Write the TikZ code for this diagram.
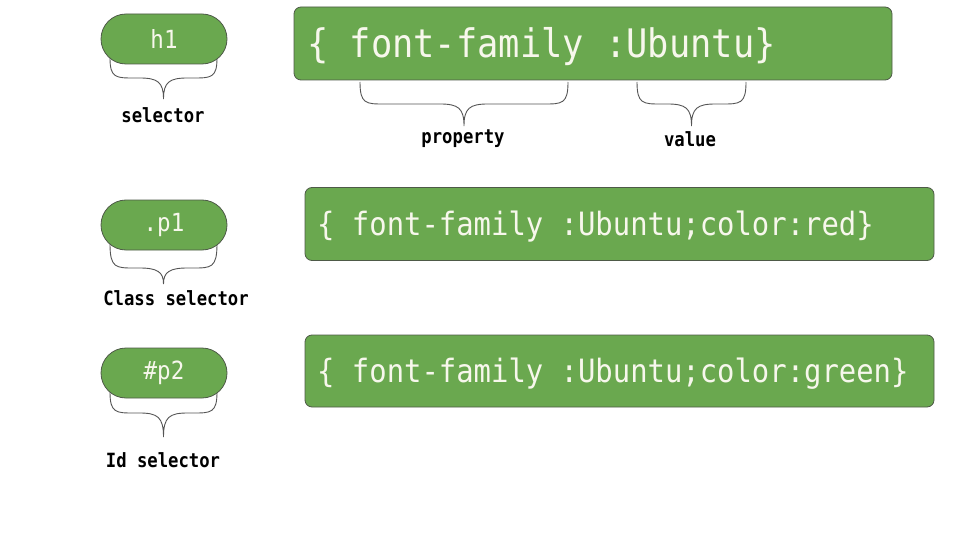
\documentclass[tikz,border=0pt]{standalone}
\usepackage{fontspec}
\newfontfamily\codefont[FakeStretch=0.9]{DejaVu Sans Mono}
\newfontfamily\labelfont[FakeStretch=0.88]{DejaVu Sans Mono Bold}
\definecolor{boxgreen}{HTML}{6AA84F}
\definecolor{boxedge}{HTML}{4E5A48}
\definecolor{boxtext}{HTML}{F7F7EC}
\definecolor{bracecol}{HTML}{555555}
\newcommand{\bracedown}[5]{%
  \pgfmathsetmacro{\bxc}{(#1+#2)/2}%
  \draw[bracestyle] (#1,#3) .. controls (#1,#4) and (#1+6,#4) .. (#1+24,#4) -- (\bxc-24,#4)
    .. controls (\bxc-6,#4) and (\bxc,#4+4) .. (\bxc,#5) .. controls (\bxc,#4+4) and (\bxc+6,#4) .. (\bxc+24,#4)
    -- (#2-24,#4) .. controls (#2-6,#4) and (#2,#4) .. (#2,#3);}
\begin{document}
\begin{tikzpicture}[x=1pt,y=-1pt,
  bracestyle/.style={draw=bracecol,line width=0.9pt},
  pill/.style={draw=boxedge,fill=boxgreen,line width=0.8pt,rounded corners=25pt,
    minimum width=126pt,minimum height=50pt,inner sep=0pt,text=boxtext,font=\codefont\fontsize{25}{25}\selectfont},
  codebox/.style={draw=boxedge,fill=boxgreen,line width=0.8pt,rounded corners=7pt,
    minimum height=73pt,inner sep=0pt},
  codetext/.style={anchor=base west,inner sep=0pt,text=boxtext},
  lbl/.style={text=black,inner sep=0pt,font=\labelfont\fontsize{19.6}{19.6}\selectfont}]
\useasboundingbox[fill=white] (0,0) rectangle (960,540);
% braces
\bracedown{110}{217}{58}{78}{99}
\bracedown{110}{217}{244}{268}{284}
\bracedown{110}{217}{392}{413}{437}
\bracedown{360}{568}{82}{104}{126}
\bracedown{637}{746}{82}{104}{126}
% pills
\node[pill] (h1) at (164,39) {h1};
\node[pill] (p1) at (164,225) {.p1};
\node[pill] (p2) at (164,373) {\#p2};
% code boxes
\node[codebox,minimum width=598pt] (c1) at (593,43.5) {};
\node[codebox,minimum width=629pt] (c2) at (619.5,224) {};
\node[codebox,minimum width=629pt,minimum height=72pt] (c3) at (619.5,371) {};
\node[codetext,font=\codefont\fontsize{39.3}{39.3}\selectfont] (t1) at (307,58) {\{ font-family :Ubuntu\}};
\node[codetext,font=\codefont\fontsize{32.1}{32.1}\selectfont] (t2) at (317,235) {\{ font-family :Ubuntu;color:red\}};
\node[codetext,font=\codefont\fontsize{32.1}{32.1}\selectfont] (t3) at (317,382) {\{ font-family :Ubuntu;color:green\}};
% labels
\node[lbl] (l1) at (163,115) {selector};
\node[lbl] (l2) at (176,298) {Class selector};
\node[lbl] (l3) at (163,460) {Id selector};
\node[lbl] (l4) at (463,139) {property};
\node[lbl] (l5) at (690,139) {value};
\end{tikzpicture}
\end{document}
